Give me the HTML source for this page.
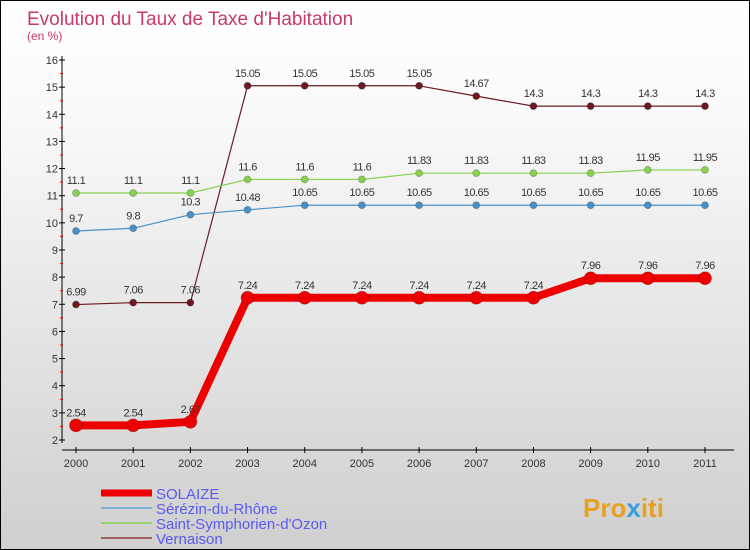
<!DOCTYPE html>
<html><head><meta charset="utf-8"><style>
body{margin:0}
#c{width:748px;height:548px;border:1px solid #000;background:linear-gradient(#fff,#fafafa 20%,#cfcfcf);position:relative;overflow:hidden;font-family:"Liberation Sans",sans-serif}
</style></head><body>
<div id="c">
<svg id="s" width="748" height="548" xmlns="http://www.w3.org/2000/svg">
<text x="26" y="24" font-size="19" fill="#c8386a">Evolution du Taux de Taxe d'Habitation</text>
<text x="26" y="39" font-size="12" fill="#c8386a">(en %)</text>
<g id="axes"></g><g id="series"></g><g id="legend"></g>
<text x="582" y="516" font-size="26" font-weight="bold" fill="#e8a020">Pro<tspan fill="#3aa0d8">x</tspan>iti</text>
</svg></div>
<script>
const years=[2000,2001,2002,2003,2004,2005,2006,2007,2008,2009,2010,2011];
const yTicks=[2,3,4,5,6,7,8,9,10,11,12,13,14,15,16];
const names=["SOLAIZE","Sérézin-du-Rhône","Saint-Symphorien-d'Ozon","Vernaison"];
const solaize=[2.54,2.54,2.67,7.24,7.24,7.24,7.24,7.24,7.24,7.96,7.96,7.96];
const serezin=[9.7,9.8,10.3,10.48,10.65,10.65,10.65,10.65,10.65,10.65,10.65,10.65];
const symph=[11.1,11.1,11.1,11.6,11.6,11.6,11.83,11.83,11.83,11.83,11.95,11.95];
const vern=[6.99,7.06,7.06,15.05,15.05,15.05,15.05,14.67,14.3,14.3,14.3,14.3];
const NS="http://www.w3.org/2000/svg";
const X=i=>75+i*(629/11);
const Y=v=>439-(v-2)*(380/14);
function mk(p,t,a){const e=document.createElementNS(NS,t);for(const k in a)e.setAttribute(k,a[k]);p.appendChild(e);return e;}
const ax=document.getElementById('axes');
let l=mk(ax,'line',{x1:61,y1:55,x2:61,y2:442,stroke:'#000'});

l=mk(ax,'line',{x1:61,y1:449,x2:733,y2:449,stroke:'#000'});

yTicks.forEach(v=>{
 mk(ax,'line',{x1:58,y1:Y(v),x2:64,y2:Y(v),stroke:'#000'});
 if(v<16)mk(ax,'line',{x1:59,y1:Y(v+0.5),x2:62,y2:Y(v+0.5),stroke:'#f00'});
 const t=mk(ax,'text',{x:57,y:Y(v)+4,'font-size':11,'text-anchor':'end',fill:'#333'});t.textContent=v;
 
});
years.forEach((y,i)=>{
 mk(ax,'line',{x1:X(i),y1:446,x2:X(i),y2:452,stroke:'#000'});
 const t=mk(ax,'text',{x:X(i),y:466,'font-size':11,'text-anchor':'middle',fill:'#333'});t.textContent=y;
 
});
const sg=document.getElementById('series');
function draw(data,color,w,r,key){
 const g=mk(sg,'g',{});
 
 const pl=mk(g,'polyline',{points:data.map((v,i)=>X(i)+','+Y(v)).join(' '),fill:'none',stroke:color,'stroke-width':w,'stroke-linejoin':'round'});
 
 data.forEach((v,i)=>{
  const c=mk(g,'circle',{cx:X(i),cy:Y(v),r:r,fill:color,stroke:'#0003'});
  
  const t=mk(g,'text',{x:X(i),y:Y(v)-9,'font-size':11,'text-anchor':'middle',fill:'#333','letter-spacing':'-0.5'});t.textContent=v;
  
 });
}
draw(vern,'#6b1a22',1.2,3.5,'vernaison');
draw(symph,'#88d050',1.2,3.5,'saint-symphorien');
draw(serezin,'#4a90c8',1.2,3.5,'serezin');
draw(solaize,'#ee0000',8,6.5,'solaize');
const lg=document.getElementById('legend');
const lc=['#ee0000','#7ab0d0','#98d070','#a06060'],lw=[7,2,2,2];
names.forEach((n,i)=>{
 const y=492+i*15;
 const ln=mk(lg,'line',{x1:100,y1:y,x2:151,y2:y,stroke:lc[i],'stroke-width':lw[i]});
 
 const t=mk(lg,'text',{x:155,y:y+6,'font-size':15,fill:'#5a5af0'});t.textContent=n;
 
});
</script>
</body></html>
